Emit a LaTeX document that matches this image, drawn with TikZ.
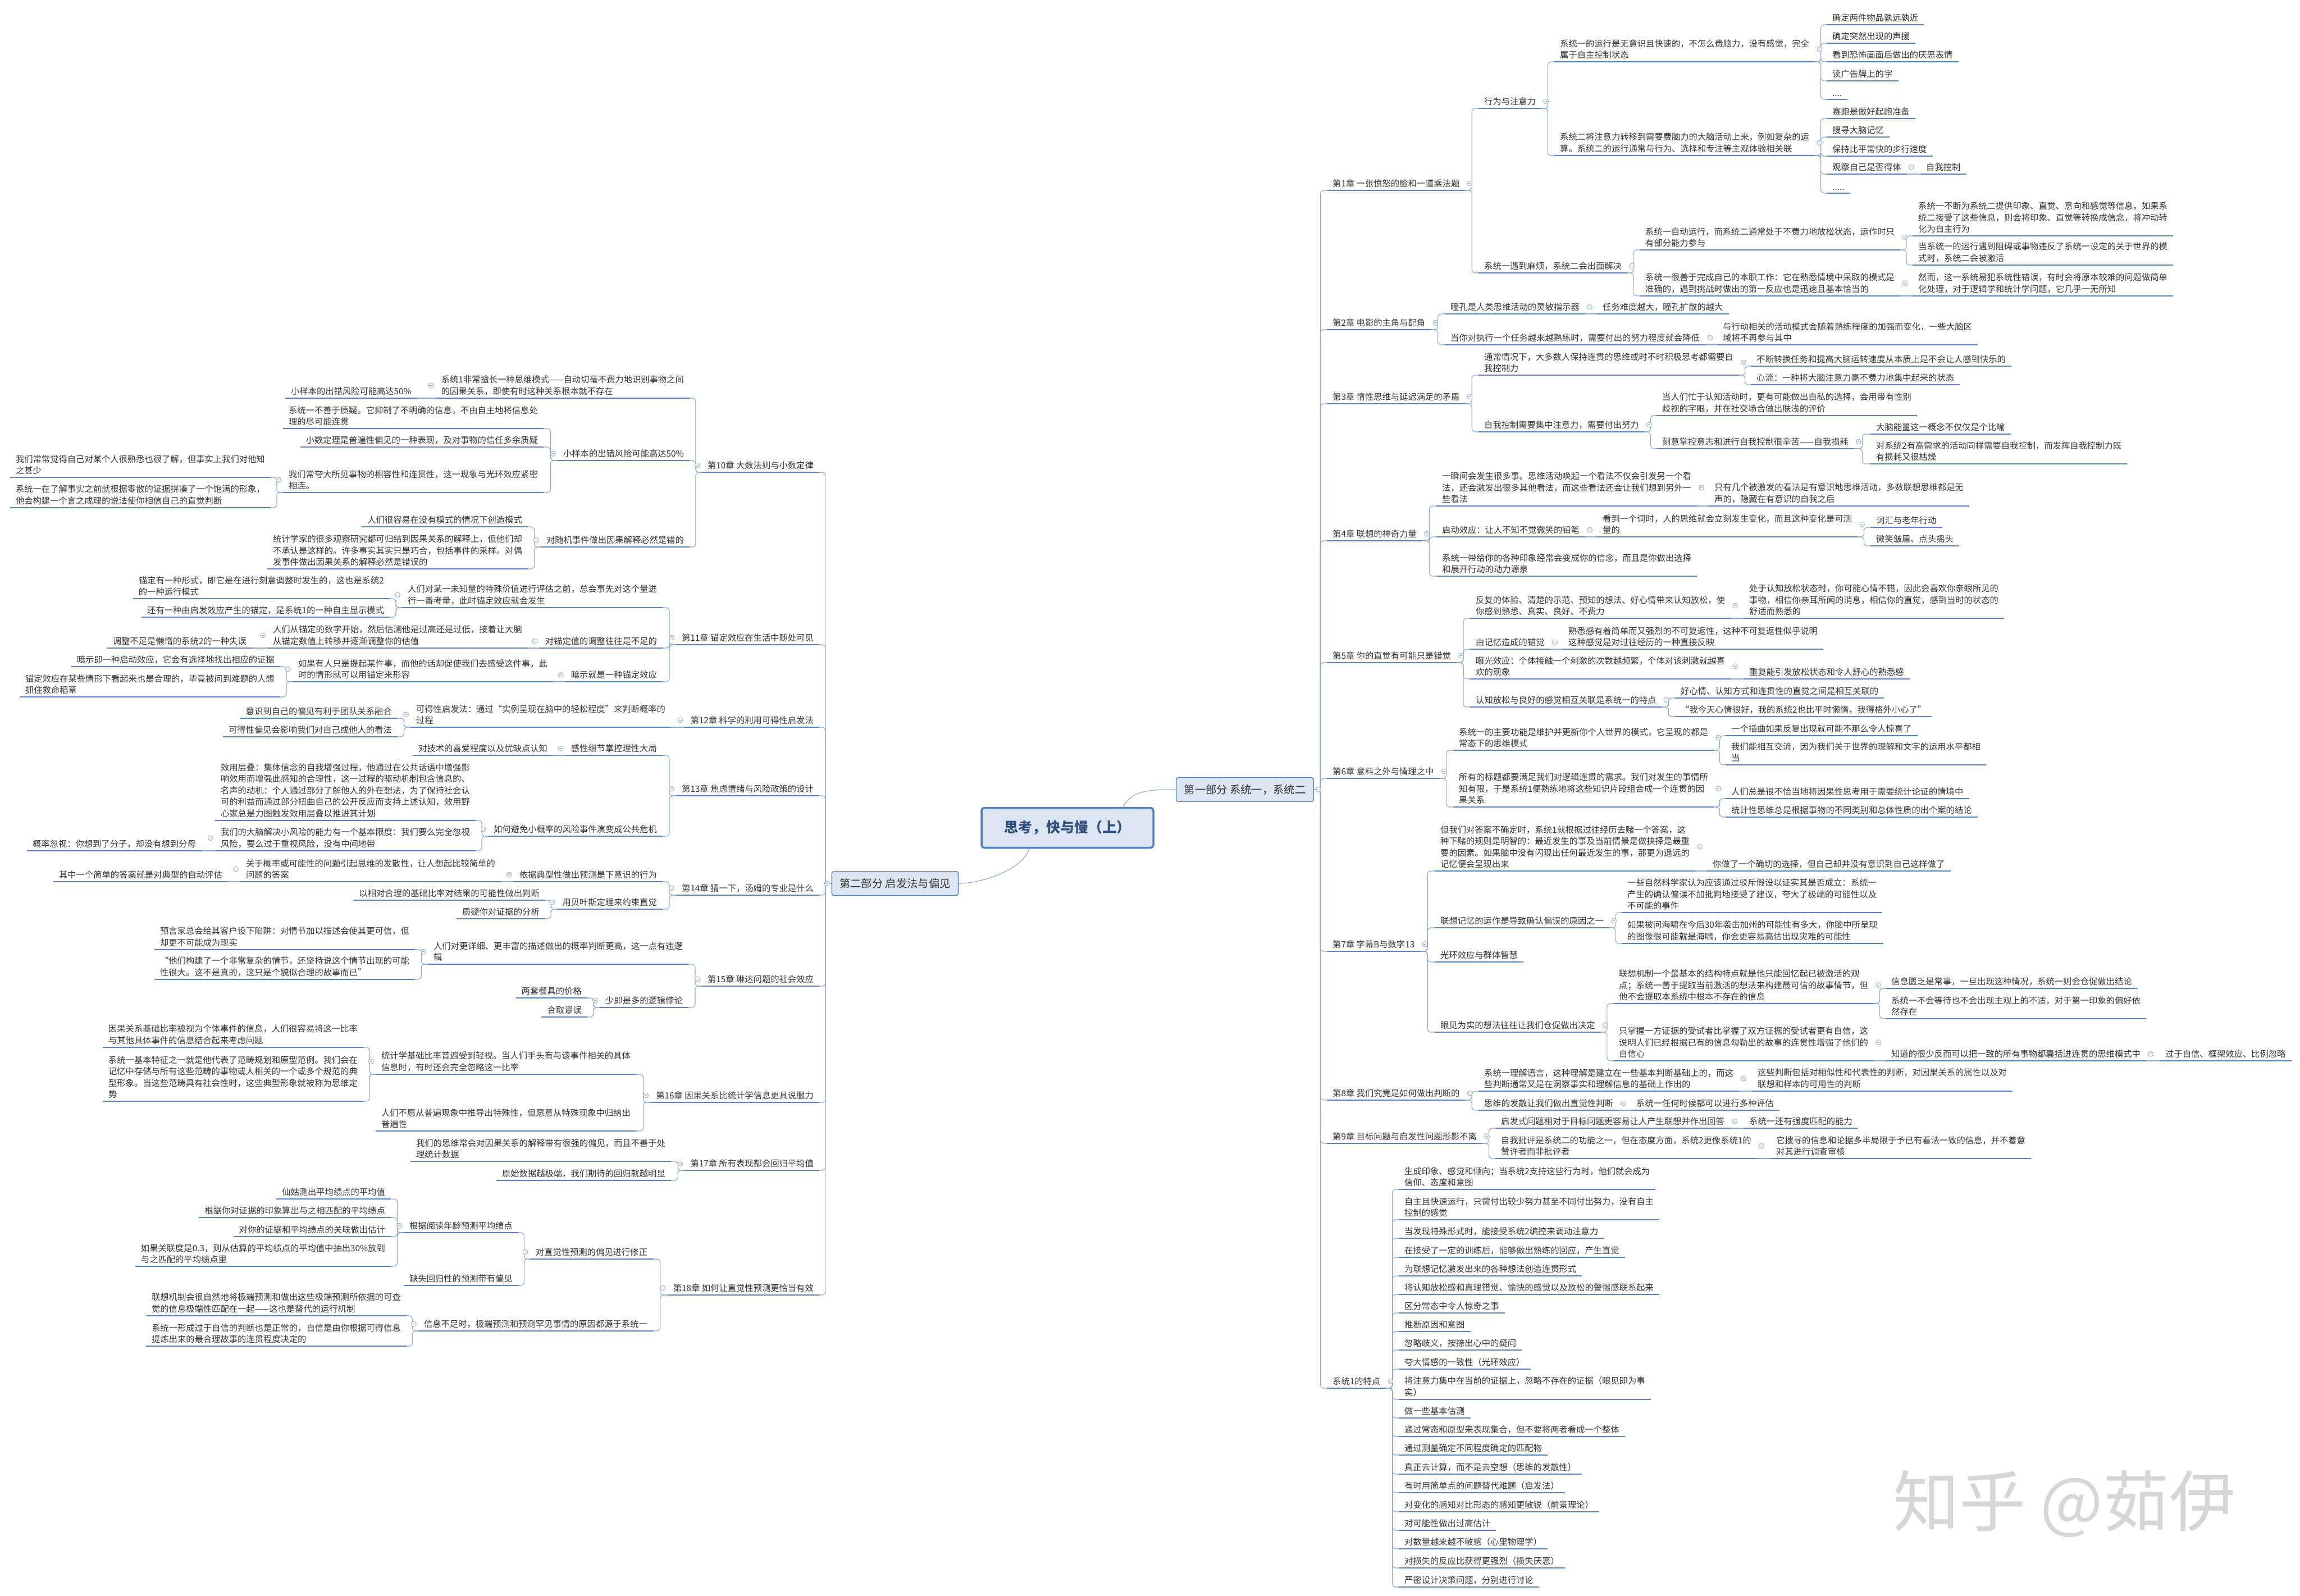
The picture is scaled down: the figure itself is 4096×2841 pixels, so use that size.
\documentclass[tikz,border=0pt]{standalone}
\usepackage{fontspec}
\newfontfamily\cjk{Noto Sans CJK SC}
\usetikzlibrary{calc}
\definecolor{ulblue}{RGB}{84,132,197}
\definecolor{lnblue}{RGB}{140,168,210}
\definecolor{txtgray}{RGB}{51,51,51}
\definecolor{boxfill}{RGB}{220,230,242}
\definecolor{boxline}{RGB}{79,129,189}
\definecolor{titleblue}{RGB}{47,79,125}
\definecolor{wmgray}{RGB}{214,214,214}
\newcommand\tsz{\fontsize{15.3}{20.5}\selectfont}
\newcommand\rjoin[2]{\foreach \kid in {#2}{\draw[link] (#1.south east) -| ($(#1.south east)!.5!(\kid.south west)$) |- (\kid.south west);}}
\newcommand\ljoin[2]{\foreach \kid in {#2}{\draw[link] (#1.south west) -| ($(#1.south west)!.5!(\kid.south east)$) |- (\kid.south east);}}
\newcommand\rstr[2]{\draw[link] (#1.south east) -- (#2.south west);}
\newcommand\lstr[2]{\draw[link] (#1.south west) -- (#2.south east);}
\begin{document}
\begin{tikzpicture}[x=1pt,y=-1pt,
  ul/.style={draw=ulblue,line width=2.6pt},
  link/.style={draw=lnblue,line width=1.1pt,rounded corners=6pt},
  topic/.style={font=\cjk\tsz,text=txtgray,align=left,inner xsep=10pt,inner ysep=5pt,
    append after command={(\tikzlastnode.south west) edge[ul] (\tikzlastnode.south east)}},
  rtopic/.style={topic,anchor=south west},
  ltopic/.style={topic,anchor=south east},
  part/.style={draw=boxline,line width=1.4pt,fill=boxfill,rounded corners=4pt,
    font=\cjk\fontsize{19.3}{22}\selectfont,text=txtgray,inner xsep=14pt,minimum height=43pt},
  coll/.style={circle,draw=lnblue,fill=white,line width=.8pt,inner sep=0pt,minimum size=9pt,
    path picture={\draw[lnblue,line width=.8pt] ([xshift=2.2pt]path picture bounding box.west) -- ([xshift=-2.2pt]path picture bounding box.east);}}]
\useasboundingbox (0,0) rectangle (4096,2841);
\fill[white] (0,0) rectangle (4096,2841);

\node[wmgray,font=\cjk\fontsize{118}{120}\selectfont] (wm) at (3676,2678) {知乎 @茹伊};

\node[draw=boxline,line width=3.5pt,fill=boxfill,rounded corners=5pt,minimum width=306pt,minimum height=71pt,
  font=\cjk\bfseries\fontsize{25}{28}\selectfont,text=titleblue] (root) at (1901,1474) {思考，快与慢（上）};
\node[part] (p1) at (2217,1406) {第一部分 系统一，系统二};
\node[part] (p2) at (1594,1573) {第二部分 启发法与偏见};
\draw[link] ($(root.north west)!.82!(root.north east)$) .. controls +(15,-30) and +(-45,0) .. (p1.west);
\draw[link] ($(root.south west)!.28!(root.south east)$) .. controls +(-10,35) and +(45,0) .. (p2.east);

% part one
\node[rtopic] (ch1) at (2363,339) {第1章 一张愤怒的脸和一道乘法题};
\node[rtopic] (c1a) at (2633,193) {行为与注意力};
\node[rtopic] (c1a1) at (2768,110) {系统一的运行是无意识且快速的，不怎么费脑力，没有感觉，完全\\属于自主控制状态};
\node[rtopic] (c1a1a) at (3253,44) {确定两件物品孰远孰近};
\node[rtopic] (c1a1b) at (3253,77) {确定突然出现的声援};
\node[rtopic] (c1a1c) at (3253,110) {看到恐怖画面后做出的厌恶表情};
\node[rtopic] (c1a1d) at (3253,144) {读广告牌上的字};
\node[rtopic] (c1a1e) at (3253,177) {....};
\node[rtopic] (c1a2) at (2768,277) {系统二将注意力转移到需要费脑力的大脑活动上来，例如复杂的运\\算。系统二的运行通常与行为、选择和专注等主观体验相关联};
\node[rtopic] (c1a2a) at (3253,211) {赛跑是做好起跑准备};
\node[rtopic] (c1a2b) at (3253,244) {搜寻大脑记忆};
\node[rtopic] (c1a2c) at (3253,278) {保持比平常快的步行速度};
\node[rtopic] (c1a2d) at (3253,310) {观察自己是否得体};
\node[rtopic] (c1a2d1) at (3420,310) {自我控制};
\node[rtopic] (c1a2e) at (3253,344) {.....};
\node[rtopic] (c1b) at (2633,486) {系统一遇到麻烦，系统二会出面解决};
\node[rtopic] (c1b1) at (2920,445) {系统一自动运行，而系统二通常处于不费力地放松状态，运作时只\\有部分能力参与};
\node[rtopic] (c1b1a) at (3406,420) {系统一不断为系统二提供印象、直觉、意向和感觉等信息，如果系\\统二接受了这些信息，则会将印象、直觉等转换成信念，将冲动转\\化为自主行为};
\node[rtopic] (c1b1b) at (3406,472) {当系统一的运行遇到阻碍或事物违反了系统一设定的关于世界的模\\式时，系统二会被激活};
\node[rtopic] (c1b2) at (2920,527) {系统一很善于完成自己的本职工作：它在熟悉情境中采取的模式是\\准确的，遇到挑战时做出的第一反应也是迅速且基本恰当的};
\node[rtopic] (c1b2a) at (3406,527) {然而，这一系统易犯系统性错误，有时会将原本较难的问题做简单\\化处理，对于逻辑学和统计学问题，它几乎一无所知};

\node[rtopic] (ch2) at (2363,587) {第2章 电影的主角与配角};
\node[rtopic] (c2a) at (2573,559) {瞳孔是人类思维活动的灵敏指示器};
\node[rtopic] (c2a1) at (2844,559) {任务难度越大，瞳孔扩散的越大};
\node[rtopic] (c2b) at (2573,614) {当你对执行一个任务越来越熟练时，需要付出的努力程度就会降低};
\node[rtopic] (c2b1) at (3058,614) {与行动相关的活动模式会随着熟练程度的加强而变化，一些大脑区\\域将不再参与其中};

\node[rtopic] (ch3) at (2363,719) {第3章 惰性思维与延迟满足的矛盾};
\node[rtopic] (c3a) at (2633,668) {通常情况下，大多数人保持连贯的思维或时不时积极思考都需要自\\我控制力};
\node[rtopic] (c3a1) at (3118,652) {不断转换任务和提高大脑运转速度从本质上是不会让人感到快乐的};
\node[rtopic] (c3a2) at (3118,685) {心流：一种将大脑注意力毫不费力地集中起来的状态};
\node[rtopic] (c3b) at (2633,769) {自我控制需要集中注意力，需要付出努力};
\node[rtopic] (c3b1) at (2950,740) {当人们忙于认知活动时，更有可能做出自私的选择，会用带有性别\\歧视的字眼，并在社交场合做出肤浅的评价};
\node[rtopic] (c3b2) at (2950,799) {刻意掌控意志和进行自我控制很辛苦——自我损耗};
\node[rtopic] (c3b2a) at (3331,773) {大脑能量这一概念不仅仅是个比喻};
\node[rtopic] (c3b2b) at (3331,826) {对系统2有高需求的活动同样需要自我控制，而发挥自我控制力既\\有损耗又很枯燥};

\node[rtopic] (ch4) at (2363,963) {第4章 联想的神奇力量};
\node[rtopic] (c4a) at (2558,901) {一瞬间会发生很多事。思维活动唤起一个看法不仅会引发另一个看\\法，还会激发出很多其他看法，而这些看法还会让我们想到另外一\\些看法};
\node[rtopic] (c4a1) at (3043,901) {只有几个被激发的看法是有意识地思维活动，多数联想思维都是无\\声的，隐藏在有意识的自我之后};
\node[rtopic] (c4b) at (2558,956) {启动效应：让人不知不觉微笑的铅笔};
\node[rtopic] (c4b1) at (2844,956) {看到一个词时，人的思维就会立刻发生变化，而且这种变化是可测\\量的};
\node[rtopic] (c4b1a) at (3331,939) {词汇与老年行动};
\node[rtopic] (c4b1b) at (3331,972) {微笑皱眉、点头摇头};
\node[rtopic] (c4c) at (2558,1026) {系统一带给你的各种印象经常会变成你的信念，而且是你做出选择\\和展开行动的动力源泉};

\node[rtopic] (ch5) at (2363,1180) {第5章 你的直觉有可能只是错觉};
\node[rtopic] (c5a) at (2618,1101) {反复的体验、清楚的示范、预知的想法、好心情带来认知放松，使\\你感到熟悉、真实、良好、不费力};
\node[rtopic] (c5a1) at (3105,1101) {处于认知放松状态时，你可能心情不错，因此会喜欢你亲眼所见的\\事物，相信你亲耳所闻的消息，相信你的直觉，感到当时的状态的\\舒适而熟悉的};
\node[rtopic] (c5b) at (2618,1156) {由记忆造成的错觉};
\node[rtopic] (c5b1) at (2783,1156) {熟悉感有着简单而又强烈的不可复返性，这种不可复返性似乎说明\\这种感觉是对过往经历的一种直接反映};
\node[rtopic] (c5c) at (2618,1209) {曝光效应：个体接触一个刺激的次数越频繁，个体对该刺激就越喜\\欢的现象};
\node[rtopic] (c5c1) at (3105,1209) {重复能引发放松状态和令人舒心的熟悉感};
\node[rtopic] (c5d) at (2618,1259) {认知放松与良好的感觉相互关联是系统一的特点};
\node[rtopic] (c5d1) at (2983,1243) {好心情、认知方式和连贯性的直觉之间是相互关联的};
\node[rtopic] (c5d2) at (2983,1276) {“我今天心情很好，我的系统2也比平时懒惰，我得格外小心了”};

\node[rtopic] (ch6) at (2363,1386) {第6章 意料之外与情理之中};
\node[rtopic] (c6a) at (2588,1336) {系统一的主要功能是维护并更新你个人世界的模式，它呈现的都是\\常态下的思维模式};
\node[rtopic] (c6a1) at (3073,1310) {一个插曲如果反复出现就可能不那么令人惊喜了};
\node[rtopic] (c6a2) at (3073,1362) {我们能相互交流，因为我们关于世界的理解和文字的运用水平都相\\当};
\node[rtopic] (c6b) at (2588,1437) {所有的标题都要满足我们对逻辑连贯的需求。我们对发生的事情所\\知有限，于是系统1便熟练地将这些知识片段组合成一个连贯的因\\果关系};
\node[rtopic] (c6b1) at (3073,1422) {人们总是很不恰当地将因果性思考用于需要统计论证的情境中};
\node[rtopic] (c6b2) at (3073,1455) {统计性思维总是根据事物的不同类别和总体性质的出个案的结论};

\node[rtopic] (ch7) at (2363,1694) {第7章 字幕B与数字13};
\node[rtopic] (c7a) at (2555,1551) {但我们对答案不确定时，系统1就根据过往经历去赌一个答案，这\\种下赌的规则是明智的：最近发生的事及当前情景是做抉择是最重\\要的因素。如果脑中没有闪现出任何最近发生的事，那更为遥远的\\记忆便会呈现出来};
\node[rtopic] (c7a1) at (3040,1551) {你做了一个确切的选择，但自己却并没有意识到自己这样做了};
\node[rtopic] (c7b) at (2555,1652) {联想记忆的运作是导致确认偏误的原因之一};
\node[rtopic] (c7b1) at (2888,1625) {一些自然科学家认为应该通过驳斥假设以证实其是否成立：系统一\\产生的确认偏误不加批判地接受了建议，夸大了极端的可能性以及\\不可能的事件};
\node[rtopic] (c7b2) at (2888,1680) {如果被问海啸在今后30年袭击加州的可能性有多大，你脑中所呈现\\的图像很可能就是海啸，你会更容易高估出现灾难的可能性};
\node[rtopic] (c7c) at (2555,1713) {光环效应与群体智慧};
\node[rtopic] (c7d) at (2555,1838) {眼见为实的想法往往让我们仓促做出决定};
\node[rtopic] (c7d1) at (2873,1787) {联想机制一个最基本的结构特点就是他只能回忆起已被激活的观\\点；系统一善于提取当前激活的想法来构建最可信的故事情节，但\\他不会提取本系统中根本不存在的信息};
\node[rtopic] (c7d1a) at (3358,1760) {信息匮乏是常事，一旦出现这种情况，系统一则会仓促做出结论};
\node[rtopic] (c7d1b) at (3358,1814) {系统一不会等待也不会出现主观上的不适，对于第一印象的偏好依\\然存在};
\node[rtopic] (c7d2) at (2873,1889) {只掌握一方证据的受试者比掌握了双方证据的受试者更有自信，这\\说明人们已经根据已有的信息勾勒出的故事的连贯性增强了他们的\\自信心};
\node[rtopic] (c7d2a) at (3358,1889) {知道的很少反而可以把一致的所有事物都囊括进连贯的思维模式中};
\node[rtopic] (c7d2a1) at (3846,1889) {过于自信、框架效应、比例忽略};

\node[rtopic] (ch8) at (2363,1959) {第8章 我们究竟是如何做出判断的};
\node[rtopic] (c8a) at (2633,1943) {系统一理解语言，这种理解是建立在一些基本判断基础上的，而这\\些判断通常又是在洞察事实和理解信息的基础上作出的};
\node[rtopic] (c8a1) at (3120,1943) {这些判断包括对相似性和代表性的判断，对因果关系的属性以及对\\联想和样本的可用性的判断};
\node[rtopic] (c8b) at (2633,1977) {思维的发散让我们做出直觉性判断};
\node[rtopic] (c8b1) at (2904,1977) {系统一任何时候都可以进行多种评估};

\node[rtopic] (ch9) at (2363,2036) {第9章 目标问题与启发性问题形影不离};
\node[rtopic] (c9a) at (2663,2009) {启发式问题相对于目标问题更容易让人产生联想并作出回答};
\node[rtopic] (c9a1) at (3105,2009) {系统一还有强度匹配的能力};
\node[rtopic] (c9b) at (2663,2063) {自我批评是系统二的功能之一，但在态度方面，系统2更像系统1的\\赞许者而非批评者};
\node[rtopic] (c9b1) at (3153,2063) {它搜寻的信息和论据多半局限于予已有看法一致的信息，并不着意\\对其进行调查审核};

\node[rtopic] (s1) at (2363,2472) {系统1的特点};
\node[rtopic] (t1) at (2491,2118) {生成印象、感觉和倾向；当系统2支持这些行为时，他们就会成为\\信仰、态度和意图};
\node[rtopic] (t2) at (2491,2172) {自主且快速运行，只需付出较少努力甚至不同付出努力，没有自主\\控制的感觉};
\node[rtopic] (t3) at (2491,2205) {当发现特殊形式时，能接受系统2编控来调动注意力};
\node[rtopic] (t4) at (2491,2239) {在接受了一定的训练后，能够做出熟练的回应，产生直觉};
\node[rtopic] (t5) at (2491,2272) {为联想记忆激发出来的各种想法创造连贯形式};
\node[rtopic] (t6) at (2491,2305) {将认知放松感和真理错觉、愉快的感觉以及放松的警惕感联系起来};
\node[rtopic] (t7) at (2491,2338) {区分常态中令人惊奇之事};
\node[rtopic] (t8) at (2491,2371) {推断原因和意图};
\node[rtopic] (t9) at (2491,2404) {忽略歧义，按捺出心中的疑问};
\node[rtopic] (t10) at (2491,2438) {夸大情感的一致性（光环效应）};
\node[rtopic] (t11) at (2491,2492) {将注意力集中在当前的证据上，忽略不存在的证据（眼见即为事\\实）};
\node[rtopic] (t12) at (2491,2525) {做一些基本估测};
\node[rtopic] (t13) at (2491,2558) {通过常态和原型来表现集合，但不要将两者看成一个整体};
\node[rtopic] (t14) at (2491,2591) {通过测量确定不同程度确定的匹配物};
\node[rtopic] (t15) at (2491,2625) {真正去计算，而不是去空想（思维的发散性）};
\node[rtopic] (t16) at (2491,2658) {有时用简单点的问题替代难题（启发法）};
\node[rtopic] (t17) at (2491,2692) {对变化的感知对比形态的感知更敏锐（前景理论）};
\node[rtopic] (t18) at (2491,2725) {对可能性做出过高估计};
\node[rtopic] (t19) at (2491,2758) {对数量越来越不敏感（心里物理学）};
\node[rtopic] (t20) at (2491,2792) {对损失的反应比获得更强烈（损失厌恶）};
\node[rtopic] (t21) at (2491,2826) {严密设计决策问题，分别进行讨论};

% part two
\node[ltopic] (ch10) at (1459,841) {第10章 大数法则与小数定律};
\node[ltopic] (c10a) at (1228,709) {系统1非常擅长一种思维模式——自动切毫不费力地识别事物之间\\的因果关系，即使有时这种关系根本就不存在};
\node[ltopic] (c10a1) at (743,709) {小样本的出错风险可能高达50\%};
\node[ltopic] (c10b) at (1228,820) {小样本的出错风险可能高达50\%};
\node[ltopic] (c10b1) at (968,763) {系统一不善于质疑。它抑制了不明确的信息，不由自主地将信息处\\理的尽可能连贯};
\node[ltopic] (c10b2) at (968,796) {小数定理是普遍性偏见的一种表现，及对事物的信任多余质疑};
\node[ltopic] (c10b3) at (968,877) {我们常夸大所见事物的相容性和连贯性，这一现象与光环效应紧密\\相连。};
\node[ltopic] (c10b3a) at (482,850) {我们常常觉得自己对某个人很熟悉也很了解，但事实上我们对他知\\之甚少};
\node[ltopic] (c10b3b) at (482,904) {系统一在了解事实之前就根据零散的证据拼凑了一个饱满的形象，\\他会构建一个言之成理的说法使你相信自己的直觉判断};
\node[ltopic] (c10c) at (1228,974) {对随机事件做出因果解释必然是错的};
\node[ltopic] (c10c1) at (940,938) {人们很容易在没有模式的情况下创造模式};
\node[ltopic] (c10c2) at (940,1013) {统计学家的很多观察研究都可归结到因果关系的解释上，但他们却\\不承认是这样的。许多事实其实只是巧合，包括事件的采样。对偶\\发事件做出因果关系的解释必然是错误的};

\node[ltopic] (ch11) at (1459,1148) {第11章 锚定效应在生活中随处可见};
\node[ltopic] (c11a) at (1180,1082) {人们对某一未知量的特殊价值进行评估之前，总会事先对这个量进\\行一番考量，此时锚定效应就会发生};
\node[ltopic] (c11a1) at (694,1066) {锚定有一种形式，即它是在进行刻意调整时发生的，这也是系统2\\的一种运行模式};
\node[ltopic] (c11a2) at (694,1099) {还有一种由启发效应产生的锚定，是系统1的一种自主显示模式};
\node[ltopic] (c11b) at (1180,1154) {对锚定值的调整往往是不足的};
\node[ltopic] (c11b1) at (940,1154) {人们从锚定的数字开始，然后估测他是过高还是过低，接着让大脑\\从锚定数值上转移并逐渐调整你的估值};
\node[ltopic] (c11b1a) at (449,1154) {调整不足是懒惰的系统2的一种失误};
\node[ltopic] (c11c) at (1180,1214) {暗示就是一种锚定效应};
\node[ltopic] (c11c1) at (985,1214) {如果有人只是提起某件事，而他的话却促使我们去感受这件事，此\\时的情形就可以用锚定来形容};
\node[ltopic] (c11c1a) at (499,1187) {暗示即一种启动效应，它会有选择地找出相应的证据};
\node[ltopic] (c11c1b) at (499,1241) {锚定效应在某些情形下看起来也是合理的，毕竟被问到难题的人想\\抓住救命稻草};

\node[ltopic] (ch12) at (1459,1295) {第12章 科学的利用可得性启发法};
\node[ltopic] (c12a) at (1195,1295) {可得性启发法：通过“实例呈现在脑中的轻松程度”来判断概率的\\过程};
\node[ltopic] (c12a1) at (708,1279) {意识到自己的偏见有利于团队关系融合};
\node[ltopic] (c12a2) at (708,1312) {可得性偏见会影响我们对自己或他人的看法};

\node[ltopic] (ch13) at (1459,1417) {第13章 焦虑情绪与风险政策的设计};
\node[ltopic] (c13a) at (1180,1345) {感性细节掌控理性大局};
\node[ltopic] (c13a1) at (985,1345) {对技术的喜爱程度以及优缺点认知};
\node[ltopic] (c13b) at (1180,1489) {如何避免小概率的风险事件演变成公共危机};
\node[ltopic] (c13b1) at (847,1461) {效用层叠：集体信念的自我增强过程，他通过在公共话语中增强影\\响效用而增强此感知的合理性，这一过程的驱动机制包含信息的、\\名声的动机：个人通过部分了解他人的外在想法，为了保持社会认\\可的利益而通过部分扭曲自己的公开反应而支持上述认知，效用野\\心家总是力图触发效用层叠以推进其计划};
\node[ltopic] (c13b2) at (847,1515) {我们的大脑解决小风险的能力有一个基本限度：我们要么完全忽视\\风险，要么过于重视风险，没有中间地带};
\node[ltopic] (c13b2a) at (359,1515) {概率忽视：你想到了分子，却没有想到分母};

\node[ltopic] (ch14) at (1459,1594) {第14章 猜一下，汤姆的专业是什么};
\node[ltopic] (c14a) at (1180,1570) {依据典型性做出预测是下意识的行为};
\node[ltopic] (c14a1) at (892,1570) {关于概率或可能性的问题引起思维的发散性，让人想起比较简单的\\问题的答案};
\node[ltopic] (c14a1a) at (406,1570) {其中一个简单的答案就是对典型的自动评估};
\node[ltopic] (c14b) at (1180,1619) {用贝叶斯定理来约束直觉};
\node[ltopic] (c14b1) at (971,1603) {以相对合理的基础比率对结果的可能性做出判断};
\node[ltopic] (c14b2) at (971,1636) {质疑你对证据的分析};

\node[ltopic] (ch15) at (1459,1756) {第15章 琳达问题的社会效应};
\node[ltopic] (c15a) at (1226,1717) {人们对更详细、更丰富的描述做出的概率判断更高，这一点有违逻\\辑};
\node[ltopic] (c15a1) at (739,1691) {预言家总会给其客户设下陷阱：对情节加以描述会使其更可信，但\\却更不可能成为现实};
\node[ltopic] (c15a2) at (739,1744) {“他们构建了一个非常复杂的情节，还坚持说这个情节出现的可能\\性很大。这不是真的，这只是个貌似合理的故事而已”};
\node[ltopic] (c15b) at (1226,1794) {少即是多的逻辑悖论};
\node[ltopic] (c15b1) at (1046,1777) {两套餐具的价格};
\node[ltopic] (c15b2) at (1046,1811) {合取谬误};

\node[ltopic] (ch16) at (1459,1963) {第16章 因果关系比统计学信息更具说服力};
\node[ltopic] (c16a) at (1133,1913) {统计学基础比率普遍受到轻视。当人们手头有与该事件相关的具体\\信息时，有时还会完全忽略这一比率};
\node[ltopic] (c16a1) at (647,1865) {因果关系基础比率被视为个体事件的信息，人们很容易将这一比率\\与其他具体事件的信息结合起来考虑问题};
\node[ltopic] (c16a2) at (647,1961) {系统一基本特征之一就是他代表了范畴规划和原型范例。我们会在\\记忆中存储与所有这些范畴的事物或人相关的一个或多个规范的典\\型形象。当这些范畴具有社会性时，这些典型形象就被称为思维定\\势};
\node[ltopic] (c16b) at (1133,2014) {人们不愿从普遍现象中推导出特殊性，但愿意从特殊现象中归纳出\\普遍性};

\node[ltopic] (ch17) at (1459,2084) {第17章 所有表现都会回归平均值};
\node[ltopic] (c17a) at (1195,2068) {我们的思维常会对因果关系的解释带有很强的偏见，而且不善于处\\理统计数据};
\node[ltopic] (c17b) at (1195,2102) {原始数据越极端，我们期待的回归就越明显};

\node[ltopic] (ch18) at (1459,2306) {第18章 如何让直觉性预测更恰当有效};
\node[ltopic] (c18a) at (1163,2242) {对直觉性预测的偏见进行修正};
\node[ltopic] (c18a1) at (923,2195) {根据阅读年龄预测平均绩点};
\node[ltopic] (c18a1a) at (696,2135) {仙姑测出平均绩点的平均值};
\node[ltopic] (c18a1b) at (696,2168) {根据你对证据的印象算出与之相匹配的平均绩点};
\node[ltopic] (c18a1c) at (696,2202) {对你的证据和平均绩点的关联做出估计};
\node[ltopic] (c18a1d) at (696,2255) {如果关联度是0.3，则从估算的平均绩点的平均值中抽出30\%放到\\与之匹配的平均绩点里};
\node[ltopic] (c18a2) at (923,2289) {缺失回归性的预测带有偏见};
\node[ltopic] (c18b) at (1163,2370) {信息不足时，极端预测和预测罕见事情的原因都源于系统一};
\node[ltopic] (c18b1) at (724,2343) {联想机制会很自然地将极端预测和做出这些极端预测所依据的可查\\觉的信息极端性匹配在一起——这也是替代的运行机制};
\node[ltopic] (c18b2) at (724,2397) {系统一形成过于自信的判断也是正常的，自信是由你根据可得信息\\提炼出来的最合理故事的连贯程度决定的};

% connectors
\foreach \kid in {ch1,ch2,ch3,ch4,ch5,ch6,ch7,ch8,ch9,s1}
  \draw[link] (p1.east) -| ($(p1.east)!.5!(\kid.south west)$) |- (\kid.south west);
\foreach \kid in {ch10,ch11,ch12,ch13,ch14,ch15,ch16,ch17,ch18}
  \draw[link] (p2.west) -| ($(p2.west)!.5!(\kid.south east)$) |- (\kid.south east);
\rjoin{ch1}{c1a,c1b}
\rjoin{c1a}{c1a1,c1a2}
\rjoin{c1a1}{c1a1a,c1a1b,c1a1c,c1a1d,c1a1e}
\rjoin{c1a2}{c1a2a,c1a2b,c1a2c,c1a2d,c1a2e}
\rstr{c1a2d}{c1a2d1}
\rjoin{c1b}{c1b1,c1b2}
\rjoin{c1b1}{c1b1a,c1b1b}
\rstr{c1b2}{c1b2a}
\rjoin{ch2}{c2a,c2b}
\rstr{c2a}{c2a1}
\rstr{c2b}{c2b1}
\rjoin{ch3}{c3a,c3b}
\rjoin{c3a}{c3a1,c3a2}
\rjoin{c3b}{c3b1,c3b2}
\rjoin{c3b2}{c3b2a,c3b2b}
\rjoin{ch4}{c4a,c4b,c4c}
\rstr{c4a}{c4a1}
\rstr{c4b}{c4b1}
\rjoin{c4b1}{c4b1a,c4b1b}
\rjoin{ch5}{c5a,c5b,c5c,c5d}
\rstr{c5a}{c5a1}
\rstr{c5b}{c5b1}
\rstr{c5c}{c5c1}
\rjoin{c5d}{c5d1,c5d2}
\rjoin{ch6}{c6a,c6b}
\rjoin{c6a}{c6a1,c6a2}
\rjoin{c6b}{c6b1,c6b2}
\rjoin{ch7}{c7a,c7b,c7c,c7d}
\rstr{c7a}{c7a1}
\rjoin{c7b}{c7b1,c7b2}
\rjoin{c7d}{c7d1,c7d2}
\rjoin{c7d1}{c7d1a,c7d1b}
\rstr{c7d2}{c7d2a}
\rstr{c7d2a}{c7d2a1}
\rjoin{ch8}{c8a,c8b}
\rstr{c8a}{c8a1}
\rstr{c8b}{c8b1}
\rjoin{ch9}{c9a,c9b}
\rstr{c9a}{c9a1}
\rstr{c9b}{c9b1}
\rjoin{s1}{t1,t2,t3,t4,t5,t6,t7,t8,t9,t10,t11,t12,t13,t14,t15,t16,t17,t18,t19,t20,t21}
\ljoin{ch10}{c10a,c10b,c10c}
\lstr{c10a}{c10a1}
\ljoin{c10b}{c10b1,c10b2,c10b3}
\ljoin{c10b3}{c10b3a,c10b3b}
\ljoin{c10c}{c10c1,c10c2}
\ljoin{ch11}{c11a,c11b,c11c}
\ljoin{c11a}{c11a1,c11a2}
\lstr{c11b}{c11b1}
\lstr{c11b1}{c11b1a}
\lstr{c11c}{c11c1}
\ljoin{c11c1}{c11c1a,c11c1b}
\lstr{ch12}{c12a}
\ljoin{c12a}{c12a1,c12a2}
\ljoin{ch13}{c13a,c13b}
\lstr{c13a}{c13a1}
\ljoin{c13b}{c13b1,c13b2}
\lstr{c13b2}{c13b2a}
\ljoin{ch14}{c14a,c14b}
\lstr{c14a}{c14a1}
\lstr{c14a1}{c14a1a}
\ljoin{c14b}{c14b1,c14b2}
\ljoin{ch15}{c15a,c15b}
\ljoin{c15a}{c15a1,c15a2}
\ljoin{c15b}{c15b1,c15b2}
\ljoin{ch16}{c16a,c16b}
\ljoin{c16a}{c16a1,c16a2}
\ljoin{ch17}{c17a,c17b}
\ljoin{ch18}{c18a,c18b}
\ljoin{c18a}{c18a1,c18a2}
\ljoin{c18a1}{c18a1a,c18a1b,c18a1c,c18a1d}
\ljoin{c18b}{c18b1,c18b2}

% collapse marks
\foreach \n in {p1,ch1,ch2,ch3,ch4,ch5,ch6,ch7,ch8,ch9,s1,c1a,c1a1,c1a2,c1a2d,c1b,c1b1,c1b2,c2a,c2b,c3a,c3b,c3b2,
    c4a,c4b,c4b1,c5a,c5b,c5c,c5d,c6a,c6b,c7a,c7b,c7d,c7d1,c7d2,c7d2a,c8a,c8b,c9a,c9b}
  \node[coll] at ([xshift=8pt]\n.east) {};
\foreach \n in {p2,ch10,ch11,ch12,ch13,ch14,ch15,ch16,ch17,ch18,c10a,c10b,c10b3,c10c,c11a,c11b,c11b1,c11c,c11c1,
    c12a,c13a,c13b,c13b2,c14a,c14a1,c14b,c15a,c15b,c16a,c18a,c18a1,c18b}
  \node[coll] at ([xshift=-8pt]\n.west) {};
\end{tikzpicture}
\end{document}
